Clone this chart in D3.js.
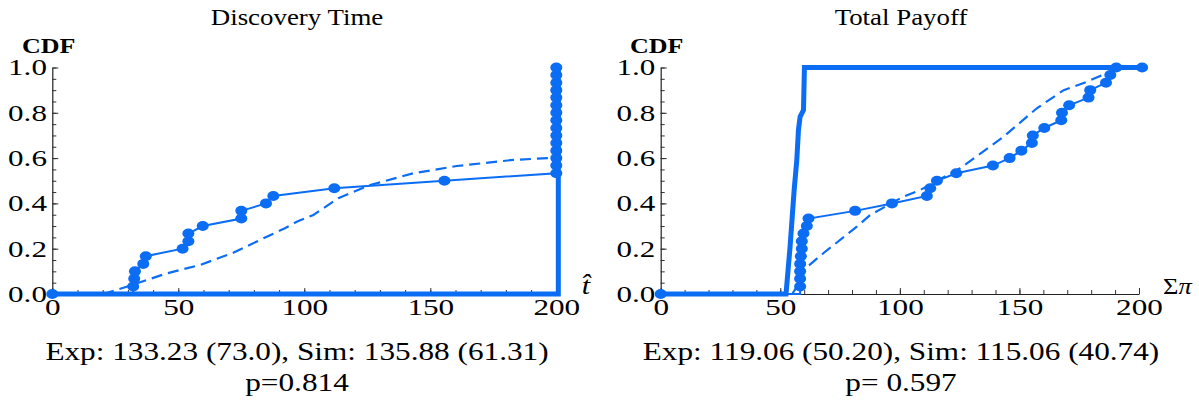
<!DOCTYPE html>
<html><head><meta charset="utf-8">
<script src="https://cdn.jsdelivr.net/npm/d3@7"></script>
<style>
html,body{margin:0;padding:0;background:#fff;}
svg{display:block;}
text{font-family:"Liberation Serif","Times New Roman",serif;fill:#000;}
</style></head>
<body>
<svg id="chart" width="1199" height="404"></svg>
<script>
// ---------- data ----------
const xTickValues = [0, 50, 100, 150, 200];
const xTickLabels = ["0", "50", "100", "150", "200"];
const yTickValues = [0, 0.2, 0.4, 0.6, 0.8, 1.0];
const yTickLabels = ["0.0", "0.2", "0.4", "0.6", "0.8", "1.0"];

const titles = ["Discovery Time", "Total Payoff"];
const xLabels = ["t\u0302", "\u03A3\u03C0"];
const statLines = ["Exp: 133.23 (73.0), Sim: 135.88 (61.31)", "Exp: 119.06 (50.20), Sim: 115.06 (40.74)"];
const pLines = ["p=0.814", "p= 0.597"];

// Discovery time: experiment (solid w/ dots)
const dtExpX = [0, 32.1, 32.5, 32.8, 36.1, 37.1, 51.7, 54.0, 54.0, 59.7, 75.0, 75.0, 84.8, 87.7, 111.9, 155.6,
  200, 200, 200, 200, 200, 200, 200, 200, 200, 200, 200, 200, 200, 200, 200];
const dtExpY = [0, 0.033, 0.067, 0.100, 0.133, 0.167, 0.200, 0.233, 0.267, 0.300, 0.333, 0.367, 0.400, 0.433, 0.467, 0.500,
  0.533, 0.567, 0.600, 0.633, 0.667, 0.700, 0.733, 0.767, 0.800, 0.833, 0.867, 0.900, 0.933, 0.967, 1.000];
// Discovery time: simulation (dashed)
const dtSimX = [20.2, 29.5, 45.4, 58.6, 71.8, 85.1, 92.3, 97.0, 103.6, 113.5, 126.1, 143.3, 160.5, 182.9, 200];
const dtSimY = [0, 0.032, 0.091, 0.128, 0.182, 0.253, 0.290, 0.319, 0.349, 0.423, 0.481, 0.533, 0.565, 0.592, 0.602];
// Discovery time: theory (thick)
const dtTheoX = [0, 200.8, 200.8];
const dtTheoY = [0, 0, 1];

// Total payoff: experiment (solid w/ dots)
const tpExpX = [0, 58.3, 58.3, 58.3, 58.3, 58.6, 59.0, 59.0, 59.7, 61.1, 61.8, 81.3, 96.7, 111.3, 112.7, 115.5, 123.6,
  138.9, 145.9, 150.8, 155.2, 155.6, 160.4, 167.5, 167.8, 170.8, 178.9, 179.6, 186.2, 188.0, 190.5, 201.3];
const tpExpY = [0, 0.033, 0.067, 0.100, 0.133, 0.167, 0.200, 0.233, 0.267, 0.300, 0.333, 0.367, 0.400, 0.433, 0.467, 0.500,
  0.533, 0.567, 0.600, 0.633, 0.667, 0.700, 0.733, 0.767, 0.800, 0.833, 0.867, 0.900, 0.933, 0.967, 1.000, 1.000];
// Total payoff: simulation (dashed)
const tpSimX = [55.0, 58.0, 59.7, 68.0, 82.0, 87.6, 101.5, 108.5, 125.2, 143.3, 157.3, 168.5, 178.2, 189.4, 192.0];
const tpSimY = [0, 0.050, 0.106, 0.180, 0.297, 0.349, 0.430, 0.459, 0.555, 0.694, 0.820, 0.900, 0.937, 0.989, 1.000];
// Total payoff: theory (thick)
const tpTheoX = [0, 52.4, 54.1, 55.8, 56.9, 57.6, 58.3, 59.7, 60.1, 201];
const tpTheoY = [0, 0, 0.209, 0.459, 0.590, 0.724, 0.783, 0.812, 1.0, 1.0];

// ---------- drawing ----------
const BLUE = "#0b6cf4";
const SX = 1.35;
const svg = d3.select("#chart");

const panels = [
  {x0: 52.3, x1: 556.3, cx: 297, exp: [dtExpX, dtExpY], sim: [dtSimX, dtSimY], theo: [dtTheoX, dtTheoY],
   title: titles[0], xl: xLabels[0], stat: statLines[0], p: pLines[0], cdfX: 22, xlX: 586},
  {x0: 660.7, x1: 1139, cx: 901, exp: [tpExpX, tpExpY], sim: [tpSimX, tpSimY], theo: [tpTheoX, tpTheoY],
   title: titles[1], xl: xLabels[1], stat: statLines[1], p: pLines[1], cdfX: 630, xlX: 1163}
];

function stretchText(sel, sx) {
  sel.each(function () {
    const t = d3.select(this);
    const prev = t.attr("transform") || "";
    t.attr("transform", prev + ` scale(${sx},1)`);
  });
}

panels.forEach((p, pi) => {
  const x = d3.scaleLinear().domain([0, 200]).range([p.x0, p.x1]);
  const y = d3.scaleLinear().domain([0, 1]).range([294, 67.5]);
  const g = svg.append("g");

  // minor x ticks
  g.append("g").attr("transform", `translate(0,${y(0)})`)
    .call(d3.axisBottom(x).tickValues(d3.range(0, 201, 10)).tickSizeInner(-4).tickSizeOuter(0).tickFormat(""))
    .call(a => a.select(".domain").remove())
    .selectAll("line").attr("stroke", "#333");
  // major x axis
  const xa = g.append("g").attr("transform", `translate(0,${y(0)})`)
    .call(d3.axisBottom(x).tickValues(xTickValues).tickSizeInner(-6).tickSizeOuter(0).tickPadding(4)
      .tickFormat((d, i) => xTickLabels[i]));
  xa.select(".domain").attr("stroke", "#222").attr("stroke-width", 1.2);
  xa.selectAll("line").attr("stroke", "#333");
  xa.selectAll("text").attr("font-size", 24).attr("font-family", "Liberation Serif").attr("fill", "#000");
  stretchText(xa.selectAll("text"), 1.3);

  // minor y ticks
  g.append("g").attr("transform", `translate(${x(0)},0)`)
    .call(d3.axisLeft(y).tickValues(d3.range(0, 1.001, 0.05)).tickSizeInner(-4).tickSizeOuter(0).tickFormat(""))
    .call(a => a.select(".domain").remove())
    .selectAll("line").attr("stroke", "#333");
  const ya = g.append("g").attr("transform", `translate(${x(0)},0)`)
    .call(d3.axisLeft(y).tickValues(yTickValues).tickSizeInner(-6).tickSizeOuter(0).tickPadding(4)
      .tickFormat((d, i) => yTickLabels[i]));
  ya.select(".domain").attr("stroke", "#222").attr("stroke-width", 1.2);
  ya.selectAll("line").attr("stroke", "#333");
  ya.selectAll("text").attr("font-size", 23).attr("font-family", "Liberation Serif").attr("fill", "#000");
  stretchText(ya.selectAll("text"), SX);

  const line = d3.line().x(d => x(d[0])).y(d => y(d[1]));
  const zip = (a) => a[0].map((v, i) => [v, a[1][i]]);

  // theory thick line
  g.append("path").datum(zip(p.theo)).attr("d", line)
    .attr("fill", "none").attr("stroke", BLUE).attr("stroke-width", 5).attr("stroke-linejoin", "miter");
  // simulation dashed
  g.append("path").datum(zip(p.sim)).attr("d", line)
    .attr("fill", "none").attr("stroke", BLUE).attr("stroke-width", 2.2).attr("stroke-dasharray", "11,6");
  // experiment solid: runs along the baseline to the first observation
  const ed = zip(p.exp);
  const pathPts = [ed[0], [ed[1][0], 0]].concat(ed.slice(1));
  g.append("path").datum(pathPts).attr("d", line)
    .attr("fill", "none").attr("stroke", BLUE).attr("stroke-width", 2);
  g.selectAll("ellipse.pt").data(ed).enter().append("ellipse").attr("class", "pt")
    .attr("cx", d => x(d[0])).attr("cy", d => y(d[1])).attr("rx", 6).attr("ry", 5).attr("fill", BLUE);

  // texts
  g.append("text").attr("transform", `translate(${p.cx},25) scale(1.12,1)`).attr("text-anchor", "middle")
    .attr("font-size", 24).text(p.title);
  g.append("text").attr("transform", `translate(${p.cdfX},53) scale(1.3,1)`).attr("font-size", 20)
    .attr("font-weight", "bold").text("CDF");
  if (pi === 0) {
    g.append("text").attr("transform", `translate(${p.xlX},294) scale(1.2,1)`).attr("text-anchor", "middle")
      .attr("font-size", 25).attr("font-style", "italic").text(p.xl);
  } else {
    const t = g.append("text").attr("transform", `translate(${p.xlX},294) scale(1.15,1)`).attr("font-size", 23);
    t.append("tspan").text(p.xl[0]);
    t.append("tspan").attr("font-style", "italic").text(p.xl[1]);
  }
  g.append("text").attr("transform", `translate(${p.cx},360) scale(1.25,1)`).attr("text-anchor", "middle")
    .attr("font-size", 25).text(p.stat);
  g.append("text").attr("transform", `translate(${p.cx},391) scale(1.25,1)`).attr("text-anchor", "middle")
    .attr("font-size", 25).text(p.p);
});
</script>
</body></html>
